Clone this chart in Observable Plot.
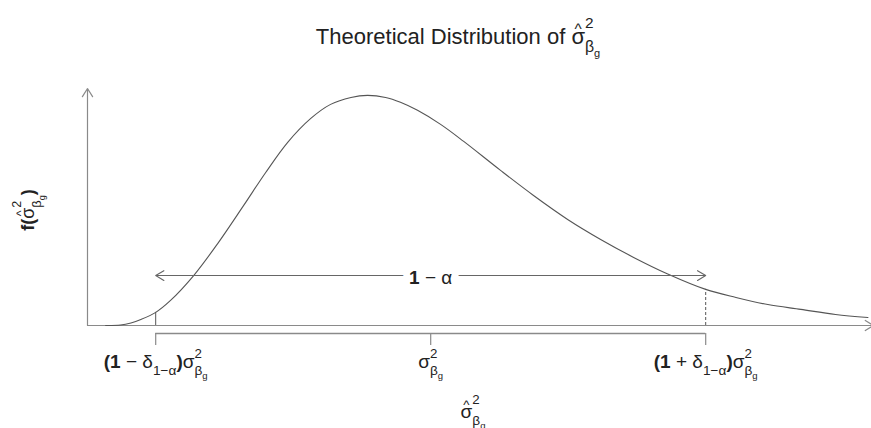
<!DOCTYPE html>
<html>
<head>
<meta charset="utf-8">
<script src="https://cdn.jsdelivr.net/npm/d3@7"></script>
<script src="https://cdn.jsdelivr.net/npm/@observablehq/plot@0.6"></script>
<style>
  body { margin: 0; background: #fff; }
  svg { display: block; }
</style>
</head>
<body>
<script>
// Sampling density of the variance estimator, x in units of the true variance σ²_βg
const densityX = [0.409, 0.436, 0.455, 0.473, 0.5, 0.527, 0.569, 0.613, 0.66, 0.7,
                  0.74, 0.782, 0.818, 0.855, 0.885, 0.918, 0.945, 0.976, 1.018, 1.06,
                  1.127, 1.187, 1.249, 1.309, 1.369, 1.431, 1.5, 1.555, 1.613, 1.673,
                  1.736, 1.795];
const densityY = [0, 0.002, 0.011, 0.026, 0.057, 0.109, 0.217, 0.357, 0.522, 0.665,
                  0.796, 0.9, 0.961, 0.991, 1.0, 0.991, 0.97, 0.935, 0.874, 0.8,
                  0.674, 0.565, 0.461, 0.374, 0.296, 0.224, 0.157, 0.122, 0.091, 0.07,
                  0.048, 0.035];

// Interval bounds (1 ± δ)σ² and the true value σ²
const tickValues = [0.5, 1, 1.5];
const tickLabels = ["*(1* − δ_{1−α}*)*σ^2_{β_g}", "σ^2_{β_g}", "*(1* + δ_{1−α}*)*σ^2_{β_g}"];

const intervalLabel = "*1* − α";
const intervalHeight = 0.217;

const HAT = "\u0302";
const titleText = "Theoretical Distribution of σ" + HAT + "^2_{β_g}";
const xLabel = "σ" + HAT + "^2_{β_g}";
const yLabel = "*f(*σ" + HAT + "^2_{β_g}*)*";

// Frame geometry
const W = 871, H = 428;
const mLeft = 87, mRight = 3, mTop = 88, mBottom = 103;
const xDomain = [0.376, 1.796];
const yDomain = [0, 1.03];
const yPerPx = yDomain[1] / (H - mTop - mBottom);
const bracketY = -8 * yPerPx;
const tickEnd = -20 * yPerPx;

const [lower, center, upper] = tickValues;
const densityAt = (v) => densityY[densityX.indexOf(v)];

const axisColor = "#8a8a8a";
const lineColor = "#555";

const chart = Plot.plot({
  width: W,
  height: H,
  marginLeft: mLeft,
  marginRight: mRight,
  marginTop: mTop,
  marginBottom: mBottom,
  x: {domain: xDomain, axis: null},
  y: {domain: yDomain, axis: null},
  style: {fontFamily: "'Liberation Sans', Arial, sans-serif", color: "#222", background: "#fff"},
  marks: [
    // axes drawn as arrows
    Plot.arrow([{x1: xDomain[0], y1: 0, x2: xDomain[0], y2: yDomain[1]}],
      {x1: "x1", y1: "y1", x2: "x2", y2: "y2", stroke: axisColor, strokeWidth: 1.2, headLength: 12, headAngle: 64}),
    Plot.arrow([{x1: xDomain[0], y1: 0, x2: 1.805, y2: 0}],
      {x1: "x1", y1: "y1", x2: "x2", y2: "y2", stroke: axisColor, strokeWidth: 1.2, headLength: 12, headAngle: 64}),
    // density curve
    Plot.line(densityX.map((x, i) => ({x, y: densityY[i]})),
      {x: "x", y: "y", curve: "catmull-rom", stroke: lineColor, strokeWidth: 1.1}),
    // interval bounds under the curve
    Plot.ruleX([lower], {y1: 0, y2: densityAt(lower), stroke: lineColor, strokeWidth: 1}),
    Plot.ruleX([upper], {y1: 0, y2: densityAt(upper), stroke: lineColor, strokeWidth: 1, strokeDasharray: "3,2"}),
    // bracket below the axis
    Plot.ruleY([bracketY], {x1: lower, x2: upper, stroke: axisColor, strokeWidth: 1.4}),
    Plot.ruleX(tickValues, {y1: bracketY, y2: tickEnd, stroke: axisColor, strokeWidth: 1.2}),
    // coverage arrows
    Plot.arrow([{x1: center, x2: lower}, {x1: center, x2: upper}],
      {x1: "x1", x2: "x2", y1: intervalHeight, y2: intervalHeight, stroke: "#666", strokeWidth: 1.1, headLength: 13, headAngle: 62}),
    Plot.text([center], {x: (d) => d, y: intervalHeight, text: () => intervalLabel, fontSize: 19,
      lineAnchor: "bottom", dy: 8, fill: "#222", stroke: "#fff", strokeWidth: 14}),
    // tick labels
    Plot.text(tickValues, {x: (d) => d, text: (d, i) => tickLabels[i], frameAnchor: "bottom",
      textAnchor: "middle", dy: 42, lineAnchor: "bottom", fontSize: 19, fill: "#222"}),
    // title and axis labels
    Plot.text([titleText], {frameAnchor: "top", textAnchor: "middle", dx: -20, dy: -45, lineAnchor: "bottom", fontSize: 22, fill: "#222"}),
    Plot.text([xLabel], {frameAnchor: "bottom", textAnchor: "middle", dx: -5, dy: 92, lineAnchor: "bottom", fontSize: 19, fill: "#222"}),
    Plot.text([yLabel], {frameAnchor: "left", textAnchor: "middle", dx: -54, dy: 3, rotate: -90, lineAnchor: "bottom", fontSize: 18, fill: "#222"})
  ]
});

document.body.append(chart);

// Typeset simple math markup: ^sup, _sub (nested for sub-subscripts),
// a combining hat over the preceding letter, and *bold* spans in the base line.
function readGroup(src, i) {
  if (src[i] === "{") {
    let depth = 1, j = i + 1;
    while (depth) { if (src[j] === "{") depth++; else if (src[j] === "}") depth--; j++; }
    return [src.slice(i + 1, j - 1), j];
  }
  return [src[i], i + 1];
}

function parseMath(src, level = 0, runs = []) {
  let buf = "";
  let prevSup = false;
  const flush = () => { if (buf) { runs.push({text: buf, level}); prevSup = false; } buf = ""; };
  for (let i = 0; i < src.length;) {
    const c = src[i];
    if (c === "^" || c === "_") {
      flush();
      const [g, j] = readGroup(src, i + 1);
      const start = runs.length;
      const stack = c === "_" && prevSup;
      parseMath(g, c === "^" ? level + 1 : level - 1, runs);
      if (stack) runs[start].stack = true;
      prevSup = c === "^";
      i = j;
    } else {
      buf += c;
      i++;
    }
  }
  flush();
  return runs;
}

function typeset(el, src) {
  const s = parseFloat(getComputedStyle(el).fontSize);
  const runs = parseMath(src);
  el.textContent = "";
  let cur = 0, pendDx = 0, hatSeen = false, supWidth = 0, bold = false;
  const add = (t, off, fs, weight) => {
    const ts = document.createElementNS("http://www.w3.org/2000/svg", "tspan");
    ts.textContent = t;
    ts.setAttribute("dy", off - cur);
    ts.setAttribute("font-size", fs);
    if (weight) ts.setAttribute("font-weight", weight);
    if (pendDx) ts.setAttribute("dx", pendDx);
    pendDx = 0;
    cur = off;
    el.appendChild(ts);
    return ts;
  };
  for (const r of runs) {
    if (r.level === 0) {
      const chars = Array.from(r.text);
      let plain = "";
      const flushPlain = () => { if (plain) add(plain, 0, s, bold ? "bold" : null); plain = ""; };
      for (let k = 0; k < chars.length; k++) {
        if (chars[k] === "*") {
          flushPlain();
          bold = !bold;
        } else if (chars[k + 1] === HAT) {
          flushPlain();
          const base = add(chars[k], 0, s, bold ? "bold" : null);
          const wb = base.getComputedTextLength();
          const hat = add("^", -0.45 * s, 0.7 * s);
          const wh = hat.getComputedTextLength();
          hat.setAttribute("dx", -(wb + wh) / 2);
          pendDx = (wb - wh) / 2;
          hatSeen = true;
          k++;
        } else {
          plain += chars[k];
        }
      }
      flushPlain();
    } else if (r.level > 0) {
      const ts = add(r.text, hatSeen ? -0.72 * s : -0.5 * s, 0.7 * s);
      supWidth = ts.getComputedTextLength();
    } else if (r.level === -1) {
      if (r.stack) pendDx -= supWidth;
      add(r.text, 0.4 * s, 0.72 * s);
    } else {
      add(r.text, 0.62 * s, 0.5 * s);
    }
  }
}

d3.select(chart).selectAll("text").each(function () {
  const src = this.textContent;
  if (/[\^_*]/.test(src) || src.includes(HAT)) typeset(this, src);
});
</script>
</body>
</html>
